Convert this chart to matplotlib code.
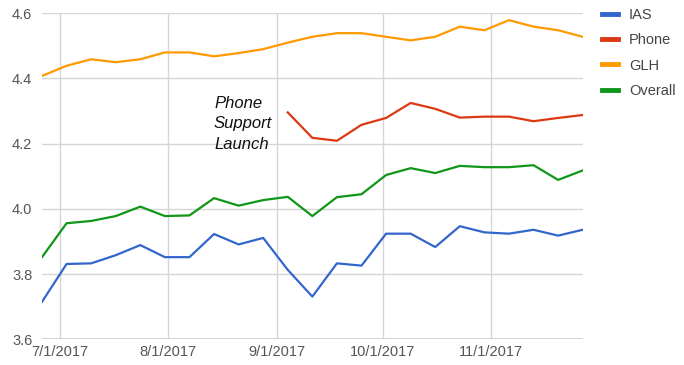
import matplotlib
matplotlib.use("Agg")
import matplotlib.pyplot as plt
import matplotlib.dates as mdates
from matplotlib.lines import Line2D
import numpy as np
import pandas as pd

plt.rcParams['font.family'] = ['Liberation Sans', 'DejaVu Sans']

dates = pd.date_range("2017-06-26", periods=23, freq="7D")

ias = [3.715, 3.831, 3.833, 3.858, 3.889, 3.852, 3.852, 3.923, 3.891, 3.911,
       3.813, 3.731, 3.833, 3.826, 3.924, 3.924, 3.883, 3.947, 3.928, 3.924,
       3.936, 3.918, 3.936]
phone = [np.nan] * 10 + [4.296, 4.218, 4.209, 4.258, 4.279, 4.325, 4.307,
                         4.280, 4.283, 4.283, 4.269, 4.279, 4.288]
glh = [4.408, 4.439, 4.459, 4.450, 4.459, 4.480, 4.480, 4.468, 4.478, 4.490,
       4.510, 4.528, 4.539, 4.539, 4.528, 4.517, 4.528, 4.559, 4.548, 4.579,
       4.559, 4.548, 4.528]
overall = [3.852, 3.956, 3.963, 3.978, 4.007, 3.978, 3.980, 4.033, 4.010, 4.027,
           4.037, 3.978, 4.036, 4.045, 4.104, 4.125, 4.110, 4.132, 4.128, 4.128,
           4.134, 4.089, 4.118]

series_names = ["IAS", "Phone", "GLH", "Overall"]
series_values = [ias, phone, glh, overall]
colors = ["#3366cc", "#dc3912", "#ff9900", "#109618"]

month_ticks = pd.to_datetime(["2017-07-01", "2017-08-01", "2017-09-01",
                              "2017-10-01", "2017-11-01"])
month_labels = ["7/1/2017", "8/1/2017", "9/1/2017", "10/1/2017", "11/1/2017"]
y_ticks = [3.6, 3.8, 4.0, 4.2, 4.4, 4.6]

W, H = 684, 365
fig = plt.figure(figsize=(W / 100, H / 100), dpi=100)
left, right, top, bottom = 42, 582.7, 13.3, 339.3
ax = fig.add_axes([left / W, 1 - bottom / H, (right - left) / W, (bottom - top) / H])

for name, vals, c in zip(series_names, series_values, colors):
    ax.plot(dates, vals, color=c, lw=1.6, label=name, solid_joinstyle='round', zorder=3)

ax.set_xlim(dates[0], dates[-1])
ax.set_ylim(3.6, 4.6)
ax.set_yticks(y_ticks)
ax.set_yticklabels([f"{v:.1f}" for v in y_ticks])
ax.set_xticks(month_ticks)
ax.set_xticklabels(month_labels)
ax.tick_params(length=0, labelsize=10.5, colors="#555555", pad=7)
ax.tick_params(axis='x', pad=4)
ax.grid(True, color="#d6d6d6", lw=1)
ax.set_axisbelow(True)
for s in ax.spines.values():
    s.set_visible(False)
ax.axhline(3.6, color="#cccccc", lw=1.2, zorder=1)

handles = [Line2D([0], [0], color=c, lw=3.5) for c in colors]
leg = fig.legend(handles, series_names, loc="upper left",
                 bbox_to_anchor=(596 / W, 1 - 2 / H), frameon=False,
                 fontsize=10.5, handlelength=1.1, handletextpad=0.75,
                 labelspacing=0.78, borderaxespad=0)
for t in leg.get_texts():
    t.set_color("#444444")

fig.text(214 / W, 1 - 124 / H, "Phone\nSupport\nLaunch", fontsize=12,
         style="italic", ha="left", va="center", color="#111111", linespacing=1.45)

fig.savefig("out.png", dpi=100)
